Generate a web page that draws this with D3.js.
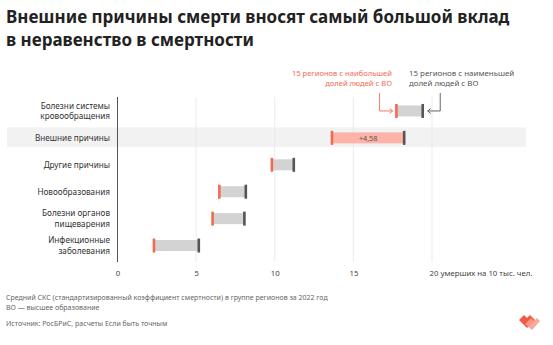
<!DOCTYPE html>
<html><head><meta charset="utf-8">
<script src="https://cdn.jsdelivr.net/npm/d3@7"></script>
<style>body{margin:0;background:#fff}svg{display:block}text{font-family:"Noto Sans",sans-serif}</style>
</head><body><svg id="c" width="553" height="345"></svg>
<script>
const categories = [["Болезни системы","кровообращения"],["Внешние причины"],["Другие причины"],["Новообразования"],["Болезни органов","пищеварения"],["Инфекционные","заболевания"]];
const highEdu = [17.75, 13.65, 9.83, 6.49, 6.06, 2.33];   // 15 регионов с наибольшей долей людей с ВО
const lowEdu  = [19.41, 18.23, 11.21, 8.16, 8.07, 5.17];  // 15 регионов с наименьшей долей людей с ВО
const tickValues = [0, 5, 10, 15, 20];
const highlightIndex = 1;
const highlightLabel = "+4,58";

const svg = d3.select("#c");
const x = d3.scaleLinear().domain([0, 20]).range([117.5, 432]);
const y = d3.scaleBand().domain(d3.range(categories.length)).range([97.5, 259]).paddingInner(0);

// title
svg.append("text").attr("x",6).attr("y",23).attr("font-size",17).attr("font-weight",700).attr("fill","#222")
  .text("Внешние причины смерти вносят самый большой вклад");
svg.append("text").attr("x",6).attr("y",46).attr("font-size",17).attr("font-weight",700).attr("fill","#222")
  .text("в неравенство в смертности");

// highlight band
svg.append("rect").attr("x",7).attr("width",519).attr("y",y(highlightIndex)+y.bandwidth()/2-10.5).attr("height",19.5).attr("fill","#f2f2f2");

// grid
svg.selectAll(".grid").data(tickValues.slice(1)).join("line")
  .attr("x1",d=>x(d)).attr("x2",d=>x(d)).attr("y1",97).attr("y2",262)
  .attr("stroke","#e6e6e6").attr("stroke-width",0.8);
// axis line
svg.append("line").attr("x1",x(0)).attr("x2",x(0)).attr("y1",97).attr("y2",262).attr("stroke","#555").attr("stroke-width",1);

// tick labels
const ax = svg.append("g").attr("transform","translate(0,262)")
  .call(d3.axisBottom(x).tickValues(tickValues).tickSize(0).tickPadding(8).tickFormat((d)=> d===20 ? "20 умерших на 10 тыс. чел." : d));
ax.select(".domain").remove();
ax.selectAll("text").attr("font-size",7.8).attr("fill","#444").attr("font-family","Noto Sans, sans-serif")
  .attr("text-anchor",d=>d===20?"start":"middle").attr("dx",d=>d===20?-3:0);

// category labels
categories.forEach((lines,i)=>{
  const cy = y(i)+y.bandwidth()/2;
  const t = svg.append("text").attr("text-anchor","end").attr("font-size",8.2).attr("fill","#333");
  lines.forEach((l,j)=>{
    t.append("tspan").attr("x",110).attr("y",cy + (j - (lines.length-1)/2)*10.5 + 3).text(l);
  });
});

// bars
const rows = svg.selectAll(".row").data(d3.range(categories.length)).join("g");
rows.append("rect")
  .attr("x",i=>x(highEdu[i])).attr("width",i=>x(lowEdu[i])-x(highEdu[i]))
  .attr("y",i=>y(i)+y.bandwidth()/2-5.5).attr("height",11)
  .attr("fill",i=>i===highlightIndex?"#fdb3a7":"#d3d3d3");
rows.append("rect")
  .attr("x",i=>x(highEdu[i])-1.5).attr("width",2.6)
  .attr("y",i=>y(i)+y.bandwidth()/2-7).attr("height",14).attr("fill","#f26a4f");
rows.append("rect")
  .attr("x",i=>x(lowEdu[i])-1.3).attr("width",2.6)
  .attr("y",i=>y(i)+y.bandwidth()/2-7).attr("height",14).attr("fill","#555");

// diff label
const hy = y(highlightIndex)+y.bandwidth()/2;
svg.append("text").attr("x",(x(highEdu[highlightIndex])+x(lowEdu[highlightIndex]))/2).attr("y",hy+2.8)
  .attr("text-anchor","middle").attr("font-size",7.2).attr("fill","#555").text(highlightLabel);

// annotations
const ay = y(0)+y.bandwidth()/2;
const hx = x(highEdu[0]), lx = x(lowEdu[0]);
svg.append("text").attr("text-anchor","end").attr("font-size",7.6).attr("fill","#f26a4f")
  .selectAll("tspan").data(["15 регионов с наибольшей","долей людей с ВО"]).join("tspan")
  .attr("x",392).attr("y",(d,j)=>76+j*10).text(d=>d);
svg.append("text").attr("text-anchor","start").attr("font-size",7.9).attr("fill","#555")
  .selectAll("tspan").data(["15 регионов с наименьшей","долей людей с ВО"]).join("tspan")
  .attr("x",409).attr("y",(d,j)=>76+j*10).text(d=>d);

svg.append("path").attr("d",`M${hx-17},93 V${ay} H${hx-4}`).attr("fill","none").attr("stroke","#f26a4f").attr("stroke-width",0.9);
svg.append("path").attr("d",`M${hx-7},${ay-2.5} L${hx-4},${ay} L${hx-7},${ay+2.5}`).attr("fill","none").attr("stroke","#f26a4f").attr("stroke-width",0.9);
svg.append("path").attr("d",`M${lx+17.5},93 V${ay} H${lx+5}`).attr("fill","none").attr("stroke","#555").attr("stroke-width",0.9);
svg.append("path").attr("d",`M${lx+8},${ay-2.5} L${lx+5},${ay} L${lx+8},${ay+2.5}`).attr("fill","none").attr("stroke","#555").attr("stroke-width",0.9);

// footer
const foot = [["Средний СКС (стандартизированный коэффициент смертности) в группе регионов за 2022 год",300],["ВО — высшее образование",310],["Источник: РосБРиС, расчеты Если быть точным",326]];
foot.forEach(([t,yy])=>svg.append("text").attr("x",6).attr("y",yy).attr("font-size",7).attr("fill","#666").text(t));

// logo
const lg = svg.append("g").attr("transform","translate(519,315)");
lg.append("path").attr("d","M0,5 L5,0 L8,3 L11,0 L16,5 L8,13 Z").attr("fill","#f05a40");
lg.append("path").attr("d","M6,9 L12,3 L15,6 L18,3 L21,6 L13,15 Z").attr("fill","#f7a08e").attr("opacity",0.9);
</script></body></html>
